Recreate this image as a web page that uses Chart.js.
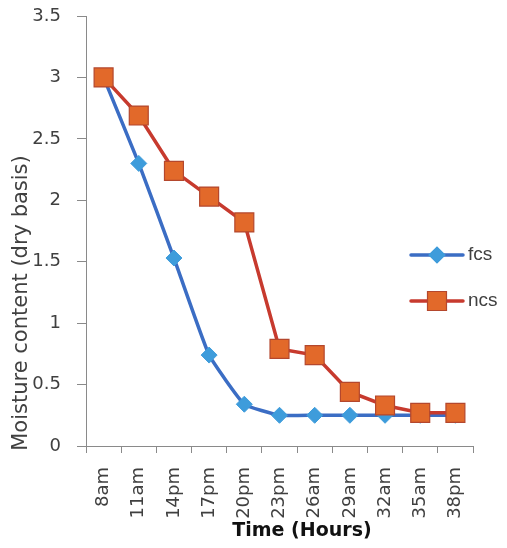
<!DOCTYPE html>
<html>
<head>
<meta charset="utf-8">
<script src="https://cdn.jsdelivr.net/npm/chart.js@4/dist/chart.umd.min.js"></script>
<style>
  html, body { margin: 0; padding: 0; background: #ffffff; }
  #wrap { width: 507px; height: 548px; }
</style>
</head>
<body>
<div id="wrap"><canvas id="chart" width="507" height="548"></canvas></div>
<script>
// Drying time points
const timeLabels = ['8am', '11am', '14pm', '17pm', '20pm', '23pm', '26am', '29am', '32am', '35am', '38pm'];
// Moisture content (dry basis) for each drying method
const fcsValues = [3, 2.3, 1.53, 0.74, 0.34, 0.25, 0.25, 0.25, 0.25, 0.25, 0.25];
const ncsValues = [3, 2.69, 2.24, 2.03, 1.82, 0.79, 0.74, 0.44, 0.33, 0.27, 0.27];
// Value axis ticks
const yTickValues = [0, 0.5, 1, 1.5, 2, 2.5, 3, 3.5];
const seriesNames = ['fcs', 'ncs'];
const yAxisTitle = 'Moisture content (dry basis)';
const xAxisTitle = 'Time (Hours)';

const FCS_LINE = '#3B6DC4';
const FCS_MARK = '#3E9CDB';
const NCS_LINE = '#C73A2E';
const NCS_MARK = '#E2692A';
const NCS_EDGE = '#B4472D';
const AXIS_GREY = '#8a8a8a';
const TEXT_GREY = '#404040';

// Axis titles and an in-plot legend
const decorations = {
  id: 'decorations',
  afterDraw(chart) {
    const ctx = chart.ctx;
    ctx.save();
    // vertical axis title
    ctx.translate(22, 303);
    ctx.rotate(-Math.PI / 2);
    ctx.font = '21px "DejaVu Sans"';
    ctx.fillStyle = TEXT_GREY;
    ctx.textAlign = 'center';
    ctx.textBaseline = 'middle';
    ctx.fillText(yAxisTitle, 0, 0);
    ctx.restore();

    ctx.save();
    ctx.font = 'bold 19px "DejaVu Sans"';
    ctx.fillStyle = '#111111';
    ctx.textAlign = 'center';
    ctx.textBaseline = 'middle';
    ctx.fillText(xAxisTitle, 302, 531);
    ctx.restore();

    // legend entries
    const entries = [
      { name: seriesNames[0], y: 255, line: FCS_LINE, fill: FCS_MARK, edge: FCS_MARK, shape: 'diamond' },
      { name: seriesNames[1], y: 301, line: NCS_LINE, fill: NCS_MARK, edge: NCS_EDGE, shape: 'square' }
    ];
    entries.forEach(e => {
      ctx.save();
      ctx.strokeStyle = e.line;
      ctx.lineWidth = 3.5;
      ctx.lineCap = 'round';
      ctx.beginPath();
      ctx.moveTo(411, e.y);
      ctx.lineTo(463, e.y);
      ctx.stroke();
      const cx = 437;
      ctx.beginPath();
      if (e.shape === 'diamond') {
        const r = 8;
        ctx.moveTo(cx - r, e.y);
        ctx.lineTo(cx, e.y - r);
        ctx.lineTo(cx + r, e.y);
        ctx.lineTo(cx, e.y + r);
        ctx.closePath();
      } else {
        const h = 9.5;
        ctx.rect(cx - h, e.y - h, 2 * h, 2 * h);
      }
      ctx.fillStyle = e.fill;
      ctx.fill();
      ctx.strokeStyle = e.edge;
      ctx.lineWidth = 1.2;
      ctx.stroke();
      ctx.font = '19px "Liberation Sans"';
      ctx.fillStyle = TEXT_GREY;
      ctx.textAlign = 'left';
      ctx.textBaseline = 'middle';
      ctx.fillText(e.name, 468, e.y);
      ctx.restore();
    });
  }
};

new Chart(document.getElementById('chart'), {
  type: 'line',
  data: {
    labels: timeLabels,
    datasets: [
      {
        label: seriesNames[0],
        data: fcsValues,
        order: 2,
        borderColor: FCS_LINE,
        borderWidth: 3.5,
        tension: 0.12,
        pointStyle: 'rectRot',
        pointRadius: 8,
        pointBackgroundColor: FCS_MARK,
        pointBorderColor: FCS_MARK,
        pointBorderWidth: 1
      },
      {
        label: seriesNames[1],
        data: ncsValues,
        order: 1,
        borderColor: NCS_LINE,
        borderWidth: 3.5,
        tension: 0,
        pointStyle: 'rect',
        pointRadius: 13.4,
        pointBackgroundColor: NCS_MARK,
        pointBorderColor: NCS_EDGE,
        pointBorderWidth: 1.2
      }
    ]
  },
  options: {
    responsive: false,
    animation: false,
    layout: { padding: { top: 16, right: 34, bottom: 0, left: 0 } },
    plugins: {
      legend: { display: false },
      tooltip: { enabled: false }
    },
    scales: {
      x: {
        type: 'category',
        offset: true,
        grid: {
          offset: true,
          drawOnChartArea: false,
          drawTicks: true,
          tickLength: 7,
          color: AXIS_GREY
        },
        border: { display: true, color: AXIS_GREY, width: 1 },
        ticks: {
          autoSkip: false,
          minRotation: 90,
          maxRotation: 90,
          padding: 14,
          color: TEXT_GREY,
          font: { family: 'DejaVu Sans', size: 18 }
        },
        afterFit(scale) { scale.height = 102; }
      },
      y: {
        min: 0,
        max: 3.5,
        afterBuildTicks(scale) { scale.ticks = yTickValues.map(v => ({ value: v })); },
        grid: {
          drawOnChartArea: false,
          drawTicks: true,
          tickLength: 9,
          color: AXIS_GREY
        },
        border: { display: true, color: AXIS_GREY, width: 1 },
        ticks: {
          padding: 16,
          color: TEXT_GREY,
          font: { family: 'DejaVu Sans', size: 18 },
          callback: v => String(v)
        },
        afterFit(scale) {
          scale.width = 86;
          scale.paddingTop = 0;
          scale.paddingBottom = 0;
        }
      }
    }
  },
  plugins: [decorations]
});
</script>
</body>
</html>
